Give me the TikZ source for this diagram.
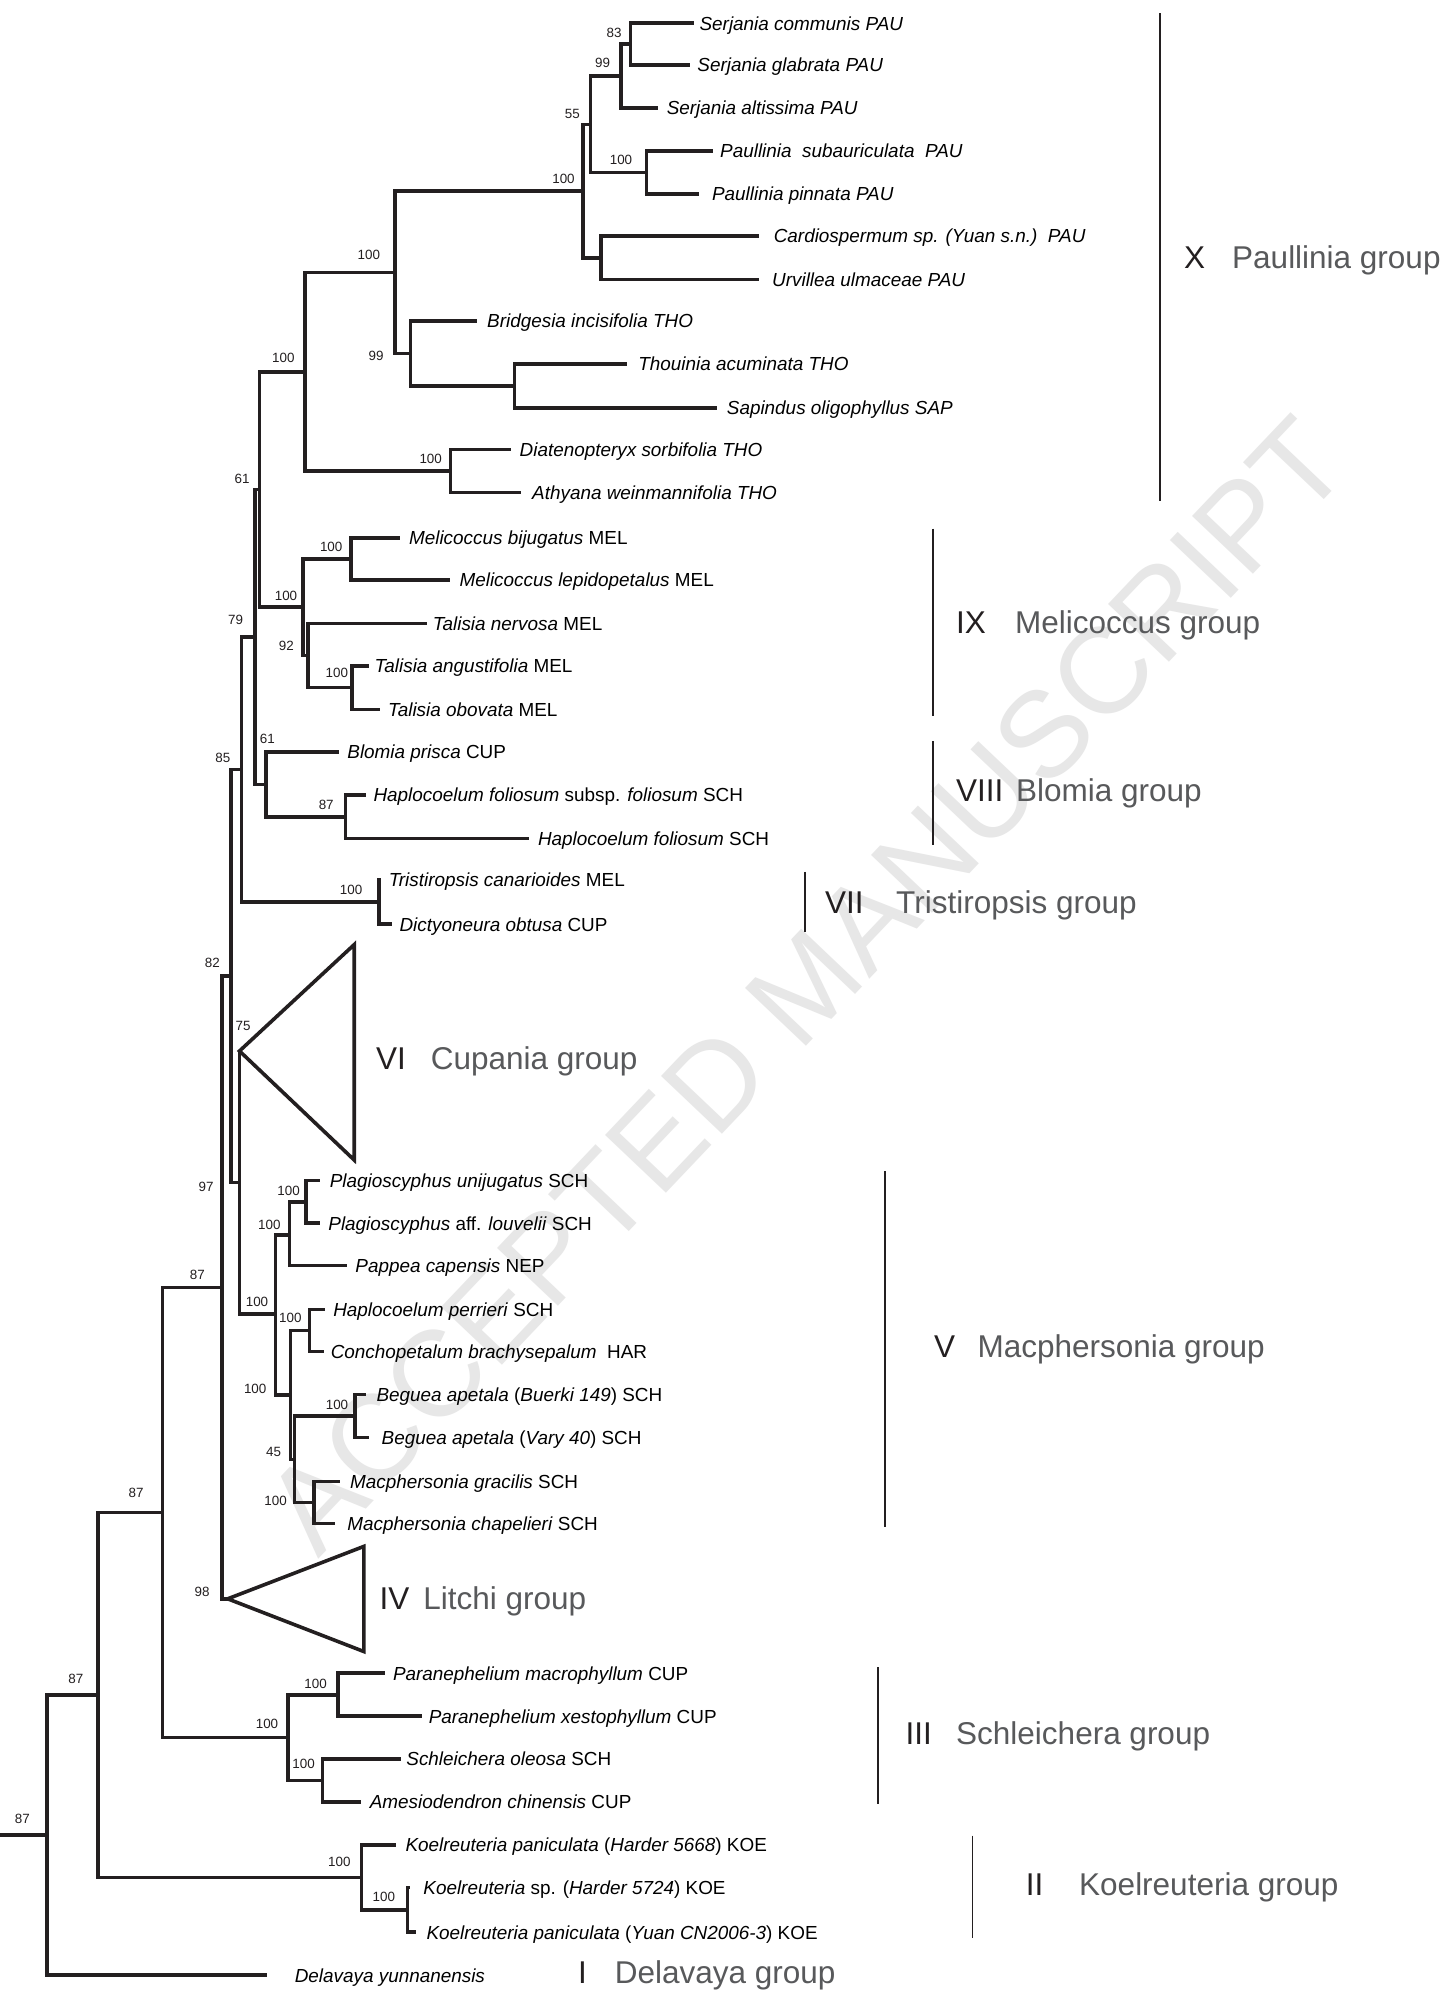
\documentclass[tikz,border=0pt]{standalone}
\usepackage{fontspec}
\setmainfont{Liberation Sans}
\definecolor{ink}{HTML}{231F20}
\definecolor{grp}{HTML}{58595B}
\definecolor{wm}{HTML}{E7E7E7}
\begin{document}
\begin{tikzpicture}[x=1bp,y=-1bp,
  br/.style={draw=ink,line width=3.6bp,line join=miter},
  bar/.style={draw=ink,line width=1.8bp},
  taxon/.style={anchor=base west,inner sep=0pt,text=black,font=\fontsize{18.9bp}{20bp}\selectfont},
  bs/.style={anchor=center,inner sep=0pt,text=ink,font=\fontsize{13.4bp}{14bp}\selectfont},
  gnum/.style={anchor=base west,inner sep=0pt,text=ink,font=\fontsize{31.5bp}{33bp}\selectfont},
  gname/.style={anchor=base west,inner sep=0pt,text=grp,font=\fontsize{31.5bp}{33bp}\selectfont},
  wmark/.style={inner sep=0pt,text=wm,font=\fontsize{122bp}{124bp}\selectfont}]
\useasboundingbox[fill=white] (0,0) rectangle (1456,1990);
% watermark
\node[wmark,rotate=46.5] (wmk) at (806,985) {ACCEPTED MANUSCRIPT};
% ---------------- tips (branch ends) ----------------
\coordinate (t1) at (693.6,23.2);
\coordinate (t2) at (689.8,64.7);
\coordinate (t3) at (658.4,107.8);
\coordinate (t4) at (712.8,150.9);
\coordinate (t5) at (698.6,194.0);
\coordinate (t6) at (759.4,236.1);
\coordinate (t7) at (758.7,279.6);
\coordinate (t8) at (477.4,321.0);
\coordinate (t9) at (626.7,364.1);
\coordinate (t10) at (716.6,408.0);
\coordinate (t11) at (510.7,449.4);
\coordinate (t12) at (521.4,492.5);
\coordinate (t13) at (400.0,537.7);
\coordinate (t14) at (449.8,580.0);
\coordinate (t15) at (426.8,623.4);
\coordinate (t16) at (369.4,665.7);
\coordinate (t17) at (379.8,709.4);
\coordinate (t18) at (338.8,751.8);
\coordinate (t19) at (365.6,795.1);
\coordinate (t20) at (529.0,838.5);
\coordinate (t21) at (381.0,879.5);
\coordinate (t22) at (391.6,924.2);
\coordinate (t23) at (320.1,1180.3);
\coordinate (t24) at (320.1,1223.2);
\coordinate (t25) at (347.2,1265.3);
\coordinate (t26) at (325.4,1309.3);
\coordinate (t27) at (323.6,1351.4);
\coordinate (t28) at (365.7,1394.6);
\coordinate (t29) at (369.2,1437.5);
\coordinate (t30) at (340.1,1481.5);
\coordinate (t31) at (335.2,1523.6);
\coordinate (t32) at (384.8,1673.2);
\coordinate (t33) at (421.8,1716.2);
\coordinate (t34) at (400.9,1758.9);
\coordinate (t35) at (360.7,1802.0);
\coordinate (t36) at (396.4,1845.0);
\coordinate (t37) at (409.8,1887.4);
\coordinate (t38) at (416.0,1932.2);
\coordinate (t39) at (266.9,1975.2);
% ---------------- internal nodes ----------------
\coordinate (n83) at (630.5,44.0);
\coordinate (n99a) at (621.0,75.8);
\coordinate (nPaul) at (646.6,172.4);
\coordinate (n55) at (590.3,124.4);
\coordinate (nCU) at (601.0,257.9);
\coordinate (n100a) at (582.7,190.7);
\coordinate (nTS) at (514.5,386.0);
\coordinate (n99b) at (410.5,353.5);
\coordinate (n100b) at (395.2,272.6);
\coordinate (nDA) at (450.6,471.0);
\coordinate (nX) at (305.2,371.8);
\coordinate (nMel) at (351.1,558.9);
\coordinate (nTal) at (352.2,687.6);
\coordinate (n92) at (308.2,655.5);
\coordinate (nIX) at (303.2,607.2);
\coordinate (n61) at (259.5,489.5);
\coordinate (nHap) at (345.3,816.8);
\coordinate (nVIII) at (266.1,784.3);
\coordinate (nP) at (255.0,636.9);
\coordinate (nTri) at (379.0,901.9);
\coordinate (n85) at (241.5,769.4);
\coordinate (viA) at (239.5,1051.0);
\coordinate (viT) at (354.2,944.6);
\coordinate (viB) at (354.2,1160.0);
\coordinate (nPlag) at (306.1,1201.8);
\coordinate (nPP) at (289.6,1235.0);
\coordinate (nHC) at (309.6,1330.4);
\coordinate (nBeg) at (355.2,1416.0);
\coordinate (nMac) at (313.8,1502.6);
\coordinate (n45) at (294.5,1459.3);
\coordinate (nHCB) at (290.3,1394.9);
\coordinate (nV) at (275.6,1314.2);
\coordinate (nC) at (239.5,1182.6);
\coordinate (nA) at (231.0,976.0);
\coordinate (ivA) at (227.7,1598.8);
\coordinate (ivT) at (363.8,1546.4);
\coordinate (ivB) at (363.8,1651.5);
\coordinate (nB) at (221.9,1287.4);
\coordinate (nPar) at (337.9,1694.7);
\coordinate (nSch) at (322.3,1780.5);
\coordinate (nIII) at (287.9,1737.6);
\coordinate (nD) at (162.3,1512.5);
\coordinate (nK2) at (407.6,1909.8);
\coordinate (nK) at (361.6,1877.4);
\coordinate (nE) at (98.2,1695.0);
\coordinate (root) at (46.9,1835.0);
\coordinate (rootL) at (0,1835.0);
% ---------------- branches ----------------
\draw[br] (n83) |- (t1); \draw[br] (n83) |- (t2);
\draw[br] (n99a) |- (n83); \draw[br] (n99a) |- (t3);
\draw[br] (nPaul) |- (t4); \draw[br] (nPaul) |- (t5);
\draw[br] (n55) |- (n99a); \draw[br] (n55) |- (nPaul);
\draw[br] (nCU) |- (t6); \draw[br] (nCU) |- (t7);
\draw[br] (n100a) |- (n55); \draw[br] (n100a) |- (nCU);
\draw[br] (nTS) |- (t9); \draw[br] (nTS) |- (t10);
\draw[br] (n99b) |- (t8); \draw[br] (n99b) |- (nTS);
\draw[br] (n100b) |- (n100a); \draw[br] (n100b) |- (n99b);
\draw[br] (nDA) |- (t11); \draw[br] (nDA) |- (t12);
\draw[br] (nX) |- (n100b); \draw[br] (nX) |- (nDA);
\draw[br] (nMel) |- (t13); \draw[br] (nMel) |- (t14);
\draw[br] (nTal) |- (t16); \draw[br] (nTal) |- (t17);
\draw[br] (n92) |- (t15); \draw[br] (n92) |- (nTal);
\draw[br] (nIX) |- (nMel); \draw[br] (nIX) |- (n92);
\draw[br] (n61) |- (nX); \draw[br] (n61) |- (nIX);
\draw[br] (nHap) |- (t19); \draw[br] (nHap) |- (t20);
\draw[br] (nVIII) |- (t18); \draw[br] (nVIII) |- (nHap);
\draw[br] (nP) |- (n61); \draw[br] (nP) |- (nVIII);
\draw[br] (nTri) |- (t21); \draw[br] (nTri) |- (t22);
\draw[br] (n85) |- (nP); \draw[br] (n85) |- (nTri);
\draw[br] (viA) -- (viT) -- (viB) -- cycle;
\draw[br] (nPlag) |- (t23); \draw[br] (nPlag) |- (t24);
\draw[br] (nPP) |- (nPlag); \draw[br] (nPP) |- (t25);
\draw[br] (nHC) |- (t26); \draw[br] (nHC) |- (t27);
\draw[br] (nBeg) |- (t28); \draw[br] (nBeg) |- (t29);
\draw[br] (nMac) |- (t30); \draw[br] (nMac) |- (t31);
\draw[br] (n45) |- (nBeg); \draw[br] (n45) |- (nMac);
\draw[br] (nHCB) |- (nHC); \draw[br] (nHCB) |- (n45);
\draw[br] (nV) |- (nPP); \draw[br] (nV) |- (nHCB);
\draw[br] (nC) |- (viA); \draw[br] (nC) |- (nV);
\draw[br] (nA) |- (n85); \draw[br] (nA) |- (nC);
\draw[br] (ivA) -- (ivT) -- (ivB) -- cycle;
\draw[br] (nB) |- (nA); \draw[br] (nB) |- (ivA);
\draw[br] (nPar) |- (t32); \draw[br] (nPar) |- (t33);
\draw[br] (nSch) |- (t34); \draw[br] (nSch) |- (t35);
\draw[br] (nIII) |- (nPar); \draw[br] (nIII) |- (nSch);
\draw[br] (nD) |- (nB); \draw[br] (nD) |- (nIII);
\draw[br] (nK2) |- (t37); \draw[br] (nK2) |- (t38);
\draw[br] (nK) |- (t36); \draw[br] (nK) |- (nK2);
\draw[br] (nE) |- (nD); \draw[br] (nE) |- (nK);
\draw[br] (root) |- (nE); \draw[br] (root) |- (t39);
\draw[br] (rootL) -- (root);
% ---------------- taxon labels ----------------
\node[taxon] (L1) at (699.4,30.0) {\textit{Serjania communis PAU}};
\node[taxon] (L2) at (697.2,71.5) {\textit{Serjania glabrata PAU}};
\node[taxon] (L3) at (666.6,114.6) {\textit{Serjania altissima PAU}};
\node[taxon] (L4) at (720.0,157.7) {\textit{Paullinia\ \ subauriculata\ \ PAU}};
\node[taxon] (L5) at (711.9,200.8) {\textit{Paullinia pinnata PAU}};
\node[taxon] (L6) at (773.6,242.9) {\textit{Cardiospermum sp. (Yuan s.n.)\ \ PAU}};
\node[taxon] (L7) at (772.0,286.4) {\textit{Urvillea ulmaceae PAU}};
\node[taxon] (L8) at (487.0,327.8) {\textit{Bridgesia incisifolia THO}};
\node[taxon] (L9) at (638.2,370.9) {\textit{Thouinia acuminata THO}};
\node[taxon] (L10) at (726.7,414.8) {\textit{Sapindus oligophyllus SAP}};
\node[taxon] (L11) at (519.5,456.2) {\textit{Diatenopteryx sorbifolia THO}};
\node[taxon] (L12) at (532.0,499.3) {\textit{Athyana weinmannifolia THO}};
\node[taxon] (L13) at (408.9,544.5) {\textit{Melicoccus bijugatus} MEL};
\node[taxon] (L14) at (459.4,586.8) {\textit{Melicoccus lepidopetalus} MEL};
\node[taxon] (L15) at (432.6,630.2) {\textit{Talisia nervosa} MEL};
\node[taxon] (L16) at (374.4,672.5) {\textit{Talisia angustifolia} MEL};
\node[taxon] (L17) at (387.8,716.2) {\textit{Talisia obovata} MEL};
\node[taxon] (L18) at (347.2,758.6) {\textit{Blomia prisca} CUP};
\node[taxon] (L19) at (373.3,801.9) {\textit{Haplocoelum foliosum} subsp. \textit{foliosum} SCH};
\node[taxon] (L20) at (537.8,845.3) {\textit{Haplocoelum foliosum} SCH};
\node[taxon] (L21) at (388.6,886.3) {\textit{Tristiropsis canarioides} MEL};
\node[taxon] (L22) at (399.3,931.0) {\textit{Dictyoneura obtusa} CUP};
\node[taxon] (L23) at (329.6,1187.1) {\textit{Plagioscyphus unijugatus} SCH};
\node[taxon] (L24) at (328.2,1230.0) {\textit{Plagioscyphus} aff. \textit{louvelii} SCH};
\node[taxon] (L25) at (355.2,1272.1) {\textit{Pappea capensis} NEP};
\node[taxon] (L26) at (333.1,1316.1) {\textit{Haplocoelum perrieri} SCH};
\node[taxon] (L27) at (330.6,1358.2) {\textit{Conchopetalum brachysepalum}\ \ HAR};
\node[taxon] (L28) at (376.3,1401.4) {\textit{Beguea apetala} (\textit{Buerki 149}) SCH};
\node[taxon] (L29) at (381.5,1444.3) {\textit{Beguea apetala} (\textit{Vary 40}) SCH};
\node[taxon] (L30) at (350.0,1488.3) {\textit{Macphersonia gracilis} SCH};
\node[taxon] (L31) at (347.2,1530.4) {\textit{Macphersonia chapelieri} SCH};
\node[taxon] (L32) at (392.8,1680.0) {\textit{Paranephelium macrophyllum} CUP};
\node[taxon] (L33) at (428.6,1723.0) {\textit{Paranephelium xestophyllum} CUP};
\node[taxon] (L34) at (406.2,1765.7) {\textit{Schleichera oleosa} SCH};
\node[taxon] (L35) at (369.6,1808.8) {\textit{Amesiodendron chinensis} CUP};
\node[taxon] (L36) at (405.3,1851.8) {\textit{Koelreuteria paniculata} (\textit{Harder 5668}) KOE};
\node[taxon] (L37) at (423.2,1894.2) {\textit{Koelreuteria} sp. (\textit{Harder 5724}) KOE};
\node[taxon] (L38) at (426.3,1939.0) {\textit{Koelreuteria paniculata} (\textit{Yuan CN2006-3}) KOE};
\node[taxon] (L39) at (294.6,1982.0) {\textit{Delavaya yunnanensis}};
% ---------------- bootstrap values ----------------
\node[bs] (b1) at (614.0,33.2) {83};
\node[bs] (b2) at (602.6,63.0) {99};
\node[bs] (b3) at (572.3,113.7) {55};
\node[bs] (b4) at (621.0,160.2) {100};
\node[bs] (b5) at (563.5,179.1) {100};
\node[bs] (b6) at (368.8,254.7) {100};
\node[bs] (b7) at (376.0,355.5) {99};
\node[bs] (b8) at (283.4,357.5) {100};
\node[bs] (b9) at (430.7,458.6) {100};
\node[bs] (b10) at (242.1,479.2) {61};
\node[bs] (b11) at (331.2,546.7) {100};
\node[bs] (b12) at (286.0,596.0) {100};
\node[bs] (b13) at (235.5,620.0) {79};
\node[bs] (b14) at (286.4,645.7) {92};
\node[bs] (b15) at (336.9,672.8) {100};
\node[bs] (b16) at (267.3,738.5) {61};
\node[bs] (b17) at (222.9,757.8) {85};
\node[bs] (b18) at (326.2,805.2) {87};
\node[bs] (b19) at (351.1,889.5) {100};
\node[bs] (b20) at (212.4,963.0) {82};
\node[bs] (b21) at (243.0,1026.0) {75};
\node[bs] (b22) at (206.0,1187.0) {97};
\node[bs] (b23) at (288.6,1190.7) {100};
\node[bs] (b24) at (269.3,1225.0) {100};
\node[bs] (b25) at (257.0,1301.6) {100};
\node[bs] (b26) at (290.3,1318.0) {100};
\node[bs] (b27) at (255.2,1388.5) {100};
\node[bs] (b28) at (273.5,1452.0) {45};
\node[bs] (b29) at (337.0,1405.0) {100};
\node[bs] (b30) at (275.6,1500.6) {100};
\node[bs] (b31) at (197.4,1274.9) {87};
\node[bs] (b32) at (202.2,1592.2) {98};
\node[bs] (b33) at (136.2,1493.0) {87};
\node[bs] (b34) at (315.6,1684.2) {100};
\node[bs] (b35) at (267.0,1723.8) {100};
\node[bs] (b36) at (303.6,1763.4) {100};
\node[bs] (b37) at (75.9,1679.0) {87};
\node[bs] (b38) at (339.3,1861.6) {100};
\node[bs] (b39) at (383.9,1896.7) {100};
\node[bs] (b40) at (22.3,1818.5) {87};
% ---------------- group bars ----------------
\coordinate (gXa) at (1159.6,13.3); \coordinate (gXb) at (1159.6,501);
\coordinate (gIXa) at (933,528.5); \coordinate (gIXb) at (933,716);
\coordinate (gVIIIa) at (933,741); \coordinate (gVIIIb) at (933,845);
\coordinate (gVIIa) at (805,871.9); \coordinate (gVIIb) at (805,932);
\coordinate (gVa) at (885.3,1171.4); \coordinate (gVb) at (885.3,1526.6);
\coordinate (gIIIa) at (878,1667); \coordinate (gIIIb) at (878,1803.6);
\coordinate (gIIa) at (972.5,1835.7); \coordinate (gIIb) at (972.5,1937.5);
\draw[bar] (gXa) -- (gXb);
\draw[bar] (gIXa) -- (gIXb);
\draw[bar] (gVIIIa) -- (gVIIIb);
\draw[bar] (gVIIa) -- (gVIIb);
\draw[bar] (gVa) -- (gVb);
\draw[bar] (gIIIa) -- (gIIIb);
\draw[bar] (gIIa) -- (gIIb);
% ---------------- group labels ----------------
\node[gnum] (gnX) at (1184,268.3) {X};
\node[gname] (gmX) at (1232,268.3) {Paullinia group};
\node[gnum] (gnIX) at (955.9,633.3) {IX};
\node[gname] (gmIX) at (1015,633.3) {Melicoccus group};
\node[gnum] (gnVIII) at (956,801.3) {VIII};
\node[gname] (gmVIII) at (1016,801.3) {Blomia group};
\node[gnum] (gnVII) at (825,913.3) {VII};
\node[gname] (gmVII) at (896,913.3) {Tristiropsis group};
\node[gnum] (gnVI) at (376,1069.9) {VI};
\node[gname] (gmVI) at (430.6,1069.9) {Cupania group};
\node[gnum] (gnV) at (934,1357.9) {V};
\node[gname] (gmV) at (977.4,1357.9) {Macphersonia group};
\node[gnum] (gnIV) at (379.4,1609.3) {IV};
\node[gname] (gmIV) at (423.2,1609.3) {Litchi group};
\node[gnum] (gnIII) at (905.4,1744.1) {III};
\node[gname] (gmIII) at (956,1744.1) {Schleichera group};
\node[gnum] (gnII) at (1025.6,1895.3) {II};
\node[gname] (gmII) at (1079,1895.3) {Koelreuteria group};
\node[gnum] (gnI) at (578,1983.3) {I};
\node[gname] (gmI) at (614.6,1983.3) {Delavaya group};
\end{tikzpicture}
\end{document}
